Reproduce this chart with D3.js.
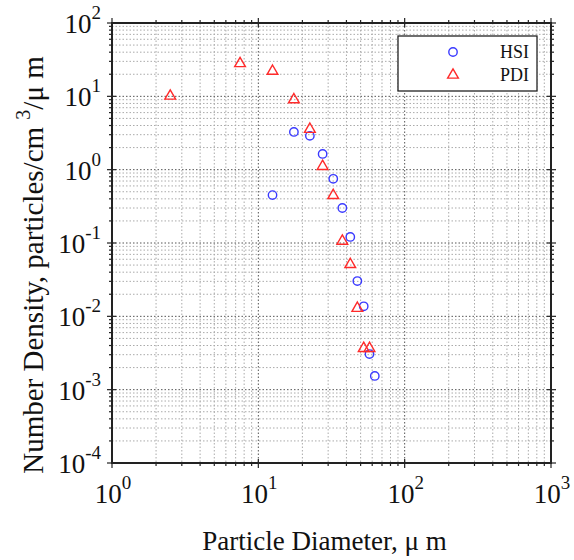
<!DOCTYPE html>
<html>
<head>
<meta charset="utf-8">
<script src="https://cdn.jsdelivr.net/npm/d3@7"></script>
<style>
  body { margin: 0; background: #fff; }
  svg { display: block; }
</style>
</head>
<body>
<div class="chart"></div>
<script>

// data (bin centres, um / particles per cm3 per um)
var hsiDiam = [12.5, 17.5, 22.5, 27.5, 32.5, 37.5, 42.5, 47.5, 52.5, 57.5, 62.5];
var hsiDens = [0.45, 3.27, 2.89, 1.64, 0.75, 0.30, 0.121, 0.0303, 0.0137, 0.00306, 0.00154];

var pdiDiam = [2.5, 7.5, 12.5, 17.5, 22.5, 27.5, 32.5, 37.5, 42.5, 47.5, 52.5, 57.5];
var pdiDens = [10.1, 28, 22, 9.0, 3.56, 1.11, 0.445, 0.106, 0.051, 0.0129, 0.00366, 0.00366];

var xExponents = [0, 1, 2, 3];
var yExponents = [-4, -3, -2, -1, 0, 1, 2];
var seriesNames = ["HSI", "PDI"];

// Margins
var W = 574, H = 560;
var margin = {top: 23, right: 23, bottom: 97, left: 112};
var width = W - margin.left - margin.right,
    height = H - margin.top - margin.bottom;

var svg = d3.select(".chart")
  .append("svg")
  .attr("width", W)
  .attr("height", H)
  .style("font-family", "'Liberation Serif', 'DejaVu Serif', serif");

var g = svg.append("g")
  .attr("transform", "translate(" + margin.left + "," + margin.top + ")");

var x = d3.scaleLog().domain([1, 1000]).range([0, width]);
var y = d3.scaleLog().domain([1e-4, 1e2]).range([height, 0]);

var isDecade = function(v) {
  var l = Math.log10(v);
  return Math.abs(l - Math.round(l)) < 1e-9;
};

// grid
var xt = x.ticks(), yt = y.ticks();

g.selectAll(".gx").data(xt.filter(function(v) { return v > 1 && v < 1000; }))
  .enter().append("line")
  .attr("class", "gx")
  .attr("x1", function(d) { return x(d); }).attr("x2", function(d) { return x(d); })
  .attr("y1", 0).attr("y2", height)
  .attr("stroke", function(d) { return isDecade(d) ? "#555" : "#aaa"; })
  .attr("stroke-width", 1)
  .attr("stroke-dasharray", "1.5,2");

g.selectAll(".gy").data(yt.filter(function(v) { return v > 1e-4 && v < 1e2; }))
  .enter().append("line")
  .attr("class", "gy")
  .attr("y1", function(d) { return y(d); }).attr("y2", function(d) { return y(d); })
  .attr("x1", 0).attr("x2", width)
  .attr("stroke", function(d) { return isDecade(d) ? "#555" : "#aaa"; })
  .attr("stroke-width", 1)
  .attr("stroke-dasharray", "1.5,2");

// ticks on all four sides
var tickLen = function(d) { return isDecade(d) ? 5 : 3; };

["bottom", "top"].forEach(function(side) {
  var y0 = side == "bottom" ? height : 0, dir = side == "bottom" ? 1 : -1;
  g.selectAll(".t" + side).data(xt)
    .enter().append("line")
    .attr("x1", function(d) { return x(d); }).attr("x2", function(d) { return x(d); })
    .attr("y1", function(d) { return y0 - (isDecade(d) ? 4 * dir : 0); })
    .attr("y2", function(d) { return y0 + tickLen(d) * dir; })
    .attr("stroke", "#222").attr("stroke-width", 1.2);
});

["left", "right"].forEach(function(side) {
  var x0 = side == "left" ? 0 : width, dir = side == "left" ? -1 : 1;
  g.selectAll(".t" + side).data(yt)
    .enter().append("line")
    .attr("y1", function(d) { return y(d); }).attr("y2", function(d) { return y(d); })
    .attr("x1", function(d) { return x0 - (isDecade(d) ? 4 * dir : 0); })
    .attr("x2", function(d) { return x0 + tickLen(d) * dir; })
    .attr("stroke", "#222").attr("stroke-width", 1.2);
});

// frame
g.append("rect")
  .attr("width", width).attr("height", height)
  .attr("fill", "none").attr("stroke", "#222").attr("stroke-width", 2);

// tick labels
var powLabel = function(sel, e) {
  sel.append("tspan").text("10");
  sel.append("tspan").attr("dy", -14).attr("font-size", 19).text(String(e));
};

g.selectAll(".xl").data(xExponents)
  .enter().append("text")
  .attr("class", "xl")
  .attr("x", function(d) { return x(Math.pow(10, d)) + 1; })
  .attr("y", height + 40)
  .attr("text-anchor", "middle")
  .attr("font-size", 27)
  .attr("fill", "#111")
  .each(function(d) { powLabel(d3.select(this), d); });

g.selectAll(".yl").data(yExponents)
  .enter().append("text")
  .attr("class", "yl")
  .attr("x", -11)
  .attr("y", function(d) { return y(Math.pow(10, d)) + 10; })
  .attr("text-anchor", "end")
  .attr("font-size", 27)
  .attr("fill", "#111")
  .each(function(d) { powLabel(d3.select(this), d); });

// axis titles
g.append("text")
  .attr("x", width / 2 - 7)
  .attr("y", height + 87)
  .attr("text-anchor", "middle")
  .attr("font-size", 27)
  .attr("fill", "#111")
  .text("Particle Diameter,  \u03bc m");

var yl = g.append("text")
  .attr("transform", "translate(" + (43 - margin.left) + "," + (height / 2 + 22) + ") rotate(-90)")
  .attr("text-anchor", "middle")
  .attr("font-size", 29)
  .attr("fill", "#111");
yl.append("tspan").text("Number Density, particles/cm ");
yl.append("tspan").attr("dy", -13).attr("font-size", 20).text("3");
yl.append("tspan").attr("dy", 13).text("/\u03bc m");

// markers
var blue = "#3a3aff", red = "#ff2a2a";
var tri = d3.symbol().type(d3.symbolTriangle).size(50);

var hsi = hsiDiam.map(function(d, i) { return {x: d, y: hsiDens[i]}; });
var pdi = pdiDiam.map(function(d, i) { return {x: d, y: pdiDens[i]}; });

g.selectAll(".hsi").data(hsi)
  .enter().append("circle")
  .attr("class", "hsi")
  .attr("cx", function(d) { return x(d.x); })
  .attr("cy", function(d) { return y(d.y); })
  .attr("r", 4.2)
  .attr("fill", "none").attr("stroke", blue).attr("stroke-width", 1.4);

g.selectAll(".pdi").data(pdi)
  .enter().append("path")
  .attr("class", "pdi")
  .attr("d", tri)
  .attr("transform", function(d) { return "translate(" + x(d.x) + "," + y(d.y) + ")"; })
  .attr("fill", "none").attr("stroke", red).attr("stroke-width", 1.4);

// legend
var lg = g.append("g").attr("transform", "translate(" + (398 - margin.left) + "," + (36 - margin.top) + ")");
lg.append("rect").attr("width", 139).attr("height", 55)
  .attr("fill", "#fff").attr("stroke", "#222").attr("stroke-width", 1.3);
lg.append("circle").attr("cx", 55).attr("cy", 16).attr("r", 4.2)
  .attr("fill", "none").attr("stroke", blue).attr("stroke-width", 1.4);
lg.append("path").attr("d", tri).attr("transform", "translate(55,39)")
  .attr("fill", "none").attr("stroke", red).attr("stroke-width", 1.4);
lg.selectAll(".lt").data(seriesNames)
  .enter().append("text")
  .attr("x", 102)
  .attr("y", function(d, i) { return 22 + i * 23; })
  .attr("font-size", 18)
  .attr("fill", "#111")
  .text(function(d) { return d; });

</script>
</body>
</html>
